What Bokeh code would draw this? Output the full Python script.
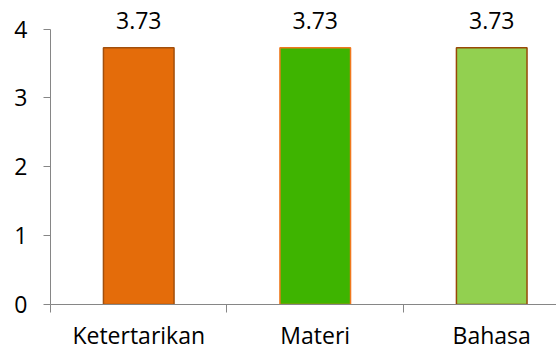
from bokeh.plotting import figure
from bokeh.models import ColumnDataSource, Range1d, FixedTicker, LinearAxis
from bokeh.core.properties import value
from bokeh.embed import file_html
from bokeh.resources import INLINE

categories = ["Ketertarikan", "Materi", "Bahasa"]
values = [3.73, 3.73, 3.73]
value_labels = ["3.73", "3.73", "3.73"]
fill_colors = ["#E46C0A", "#3EB400", "#92D050"]
line_colors = ["#A24F0C", "#F0781E", "#984807"]
y_ticks = [0, 1, 2, 3, 4]

FONT = "Open Sans"
FS = "23px"
xpos = [i + 0.5 for i in range(len(categories))]

src = ColumnDataSource(dict(x=xpos, top=values, cat=categories, lab=value_labels,
                            fill=fill_colors, line=line_colors))

p = figure(width=556, height=354, output_backend="svg", toolbar_location=None,
           x_range=Range1d(0, 2.867), y_range=Range1d(0, 4.3),
           x_axis_type=None, y_axis_type=None,
           min_border_left=50, min_border_right=0, min_border_top=8, min_border_bottom=50)
p.outline_line_color = None
p.grid.visible = False
p.background_fill_color = "white"
p.border_fill_color = "white"

p.vbar(x="x", top="top", width=0.4, bottom=0, source=src,
       fill_color="fill", line_color="line", line_width=1.5)

p.text(x="x", y="top", text="lab", source=src, text_align="center", text_baseline="middle",
       y_offset=-27, text_font=value(FONT), text_font_size=value(FS), text_color="black")

axis_color = "#868686"
xaxis = LinearAxis(ticker=FixedTicker(ticks=xpos, minor_ticks=[0, 1, 2, 3]),
                   major_label_overrides={x: c for x, c in zip(xpos, categories)})
xaxis.axis_line_color = axis_color
xaxis.major_tick_out = 0
xaxis.major_tick_in = 0
xaxis.minor_tick_out = 8
xaxis.minor_tick_in = 0
xaxis.minor_tick_line_color = axis_color
xaxis.major_label_text_font = FONT
xaxis.major_label_text_font_size = FS
xaxis.major_label_text_color = "black"
xaxis.major_label_standoff = 6
p.add_layout(xaxis, "below")

yaxis = LinearAxis(ticker=FixedTicker(ticks=y_ticks), bounds=(0, 4))
yaxis.axis_line_color = axis_color
yaxis.major_tick_out = 7
yaxis.major_tick_in = 0
yaxis.major_tick_line_color = axis_color
yaxis.minor_tick_line_color = None
yaxis.major_label_text_font = FONT
yaxis.major_label_text_font_size = FS
yaxis.major_label_text_color = "black"
yaxis.major_label_standoff = 16
p.add_layout(yaxis, "left")

open("out.html", "w").write(file_html(p, INLINE))
